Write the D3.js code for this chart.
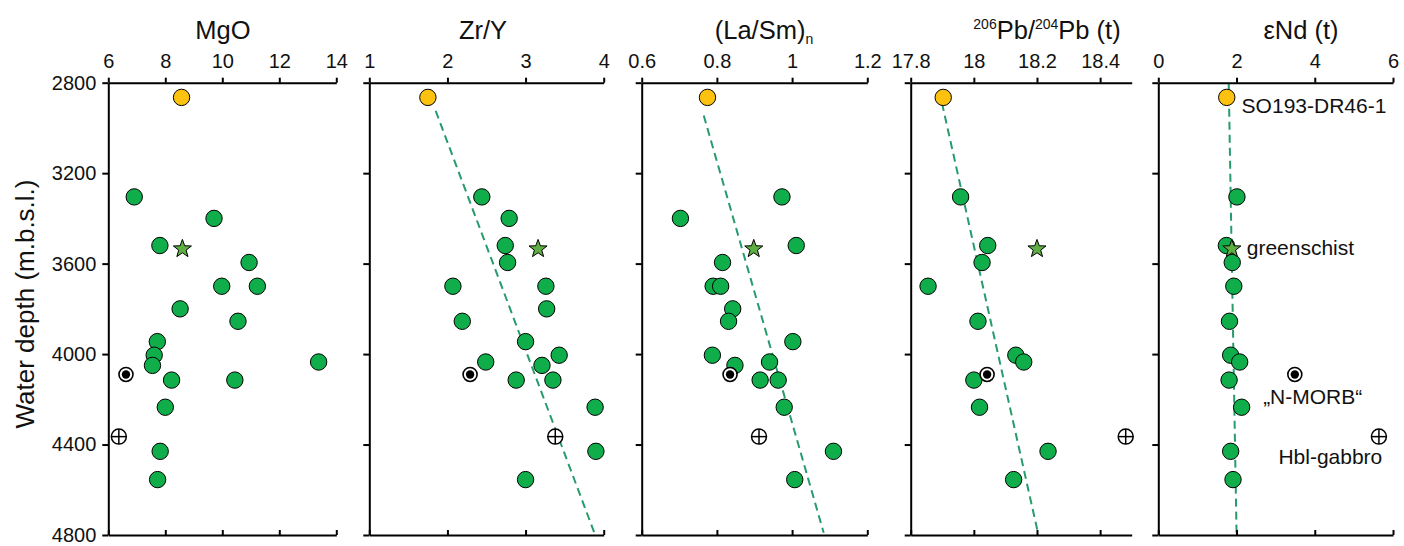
<!DOCTYPE html>
<html><head><meta charset="utf-8">
<script src="https://cdn.jsdelivr.net/npm/d3@7"></script>
<style>body{margin:0;background:#fff}svg{display:block}text{font-family:"Liberation Sans",Arial,Helvetica,sans-serif;fill:#111}</style>
</head><body><svg id="c" width="1404" height="546"></svg>
<script>
// ---------------- data ----------------
const depthTicks = [2800, 3200, 3600, 4000, 4400, 4800];
const depthDomain = [2800, 4800];

// green samples (depth, m.b.s.l.)
const greenDepths = [3305, 3400, 3520, 3595, 3700, 3700, 3800, 3855, 3945, 4005, 4035, 4050, 4115, 4115, 4235, 4430, 4555];
const mgoGreen    = [6.91, 9.71, 7.81, 10.94, 9.98, 11.23, 8.52, 10.55, 7.72, 7.61, 13.38, 7.55, 8.22, 10.44, 8.00, 7.82, 7.73];
const zryGreen    = [2.44, 2.79, 2.74, 2.77, 2.07, 3.26, 3.27, 2.19, 3.00, 3.43, 2.49, 3.21, 2.88, 3.35, 3.89, 3.90, 3.00];
const lasmGreen   = [0.973, 0.703, 1.011, 0.815, 0.790, 0.810, 0.842, 0.831, 1.002, 0.788, 0.940, 0.848, 0.915, 0.963, 0.979, 1.110, 1.007];
const pbGreen     = [17.958, null, 18.044, 18.026, 17.855, null, null, 18.013, null, 18.133, 18.158, null, 18.000, null, 18.018, 18.235, 18.126];
const ndGreen     = [2.01, null, 1.74, 1.89, 1.93, null, null, 1.82, null, 1.85, 2.08, null, 1.81, null, 2.13, 1.85, 1.91];

// special samples: SO193-DR46-1 (yellow), greenschist (star), "N-MORB" (bullseye), Hbl-gabbro (crossed circle)
const specialKinds  = ["yellow", "star", "nmorb", "hbl"];
const specialDepths = [2865, 3535, 4090, 4365];
const mgoSpecial  = [8.57, 8.60, 6.62, 6.37];
const zrySpecial  = [1.75, 3.16, 2.29, 3.38];
const lasmSpecial = [0.775, 0.898, 0.835, 0.912];
const pbSpecial   = [17.903, 18.20, 18.042, 18.481];
const ndSpecial   = [1.75, 1.88, 3.49, 5.64];

// dashed trend lines: [x at top, depth at top, x at bottom, depth at bottom]
const zryTrend  = [1.85, 2925, 3.88, 4790];
const lasmTrend = [0.765, 2945, 1.084, 4790];
const pbTrend   = [17.899, 2890, 18.203, 4790];
const ndTrend   = [1.80, 2800, 2.00, 4790];

// axis tick labels
const mgoTicks  = [6, 8, 10, 12, 14];
const zryTicks  = [1, 2, 3, 4];
const lasmTicks = [0.6, 0.8, 1, 1.2];
const pbTicks   = [17.8, 18, 18.2, 18.4];
const ndTicks   = [0, 2, 4, 6];

// annotations on the εNd panel (text, x value, depth)
const annoTexts  = ["SO193-DR46-1", "greenschist", "\u201EN-MORB\u201C", "Hbl-gabbro"];
const annoX      = [2.13, 2.26, 2.68, 3.07];
const annoDepths = [2903, 3531, 4190, 4455];

// ---------------- layout ----------------
const yTop = 82.7, yBot = 535;
const panels = [
  {x0:108.3, x1:336.3, domain:[6,14], ticks:mgoTicks, green:mgoGreen, special:mgoSpecial, trend:null, titleX:223, labels:true},
  {x0:369.3, x1:603.7, domain:[1,4], ticks:zryTicks, green:zryGreen, special:zrySpecial, trend:zryTrend, titleX:483},
  {x0:641.7, x1:867.3, domain:[0.6,1.2], ticks:lasmTicks, green:lasmGreen, special:lasmSpecial, trend:lasmTrend, titleX:764},
  {x0:910.7, x1:1131.7, domain:[17.8,18.5], ticks:pbTicks, green:pbGreen, special:pbSpecial, trend:pbTrend, titleX:1047},
  {x0:1158.3, x1:1393, domain:[0,6], ticks:ndTicks, green:ndGreen, special:ndSpecial, trend:ndTrend, titleX:1301}
];

const GREEN = "#0fae4b", YELLOW = "#fdc20f", STARFILL = "#5fae44", TREND = "#279b6c";

const svg = d3.select("#c");
const y = d3.scaleLinear().domain(depthDomain).range([yTop, yBot]);

function starPath(R, r) {
  let p = "";
  for (let i = 0; i < 10; i++) {
    const a = -Math.PI / 2 + i * Math.PI / 5;
    const rr = i % 2 === 0 ? R : r;
    p += (i === 0 ? "M" : "L") + (rr * Math.cos(a)).toFixed(2) + "," + (rr * Math.sin(a)).toFixed(2);
  }
  return p + "Z";
}

const fmt = v => String(+v.toFixed(2));

panels.forEach((P, pi) => {
  const x = d3.scaleLinear().domain(P.domain).range([P.x0, P.x1]);
  const g = svg.append("g");

  // trend line
  if (P.trend) {
    g.append("line")
      .attr("x1", x(P.trend[0])).attr("y1", y(P.trend[1]))
      .attr("x2", x(P.trend[2])).attr("y2", y(P.trend[3]))
      .attr("stroke", TREND).attr("stroke-width", 2).attr("stroke-dasharray", "8,5");
  }

  // axes
  const axTop = g.append("g").attr("transform", `translate(0,${yTop})`)
    .call(d3.axisTop(x).tickValues(P.ticks).tickSize(5).tickSizeOuter(0).tickPadding(10).tickFormat(fmt));
  const axBot = g.append("g").attr("transform", `translate(0,${yBot})`)
    .call(d3.axisBottom(x).tickValues(P.ticks).tickSize(-5).tickSizeOuter(0).tickFormat(""));
  const axL = g.append("g").attr("transform", `translate(${P.x0},0)`)
    .call(d3.axisLeft(y).tickValues(depthTicks).tickSize(6).tickSizeOuter(0).tickPadding(6)
      .tickFormat(P.labels ? d3.format("d") : ""));
  [axTop, axBot, axL].forEach(a => {
    a.selectAll("path,line").attr("stroke", "#000").attr("stroke-width", 2);
    a.selectAll("text").attr("font-size", 20).attr("fill", "#111")
      .style("font-family", '"Liberation Sans",Arial,sans-serif');
  });

  // green points
  const gd = greenDepths.map((d, i) => ({d, v: P.green[i]})).filter(o => o.v != null);
  g.selectAll("circle.green").data(gd).enter().append("circle")
    .attr("cx", o => x(o.v)).attr("cy", o => y(o.d)).attr("r", 8.2)
    .attr("fill", GREEN).attr("stroke", "#000").attr("stroke-width", 1);

  // special points
  specialKinds.forEach((k, i) => {
    const cx = x(P.special[i]), cy = y(specialDepths[i]);
    if (k === "yellow") {
      g.append("circle").attr("cx", cx).attr("cy", cy).attr("r", 8.2)
        .attr("fill", YELLOW).attr("stroke", "#000").attr("stroke-width", 1);
    } else if (k === "star") {
      g.append("path").attr("d", starPath(9.5, 3.9)).attr("transform", `translate(${cx},${cy})`)
        .attr("fill", STARFILL).attr("stroke", "#000").attr("stroke-width", 1);
    } else if (k === "nmorb") {
      g.append("circle").attr("cx", cx).attr("cy", cy).attr("r", 7)
        .attr("fill", "#fff").attr("stroke", "#000").attr("stroke-width", 1.6);
      g.append("circle").attr("cx", cx).attr("cy", cy).attr("r", 4.2).attr("fill", "#000");
    } else if (k === "hbl") {
      g.append("circle").attr("cx", cx).attr("cy", cy).attr("r", 7.5)
        .attr("fill", "#fff").attr("stroke", "#000").attr("stroke-width", 1.5);
      g.append("line").attr("x1", cx - 7.5).attr("x2", cx + 7.5).attr("y1", cy).attr("y2", cy)
        .attr("stroke", "#000").attr("stroke-width", 1.5);
      g.append("line").attr("x1", cx).attr("x2", cx).attr("y1", cy - 7.5).attr("y2", cy + 7.5)
        .attr("stroke", "#000").attr("stroke-width", 1.5);
    }
  });

  // annotations (last panel)
  if (pi === 4) {
    annoTexts.forEach((t, i) => {
      g.append("text").attr("x", x(annoX[i])).attr("y", y(annoDepths[i])).attr("dy", "0.35em")
        .attr("font-size", 21).text(t);
    });
  }
});

// panel titles
const tY = 39;
svg.append("text").attr("x", panels[0].titleX).attr("y", tY).attr("text-anchor", "middle").attr("font-size", 25.5).text("MgO");
svg.append("text").attr("x", panels[1].titleX).attr("y", tY).attr("text-anchor", "middle").attr("font-size", 25.5).text("Zr/Y");
const t3 = svg.append("text").attr("x", panels[2].titleX).attr("y", tY).attr("text-anchor", "middle").attr("font-size", 25.5);
t3.append("tspan").text("(La/Sm)");
t3.append("tspan").attr("font-size", 14).attr("dy", 5).text("n");
const t4 = svg.append("text").attr("x", panels[3].titleX).attr("y", tY).attr("text-anchor", "middle").attr("font-size", 25.5);
t4.append("tspan").attr("font-size", 14).attr("dy", -10).text("206");
t4.append("tspan").attr("dy", 10).text("Pb/");
t4.append("tspan").attr("font-size", 14).attr("dy", -10).text("204");
t4.append("tspan").attr("dy", 10).text("Pb (t)");
svg.append("text").attr("x", panels[4].titleX).attr("y", tY).attr("text-anchor", "middle").attr("font-size", 25.5).text("\u03B5Nd (t)");

// y-axis title
svg.append("text").attr("transform", "translate(34,304) rotate(-90)").attr("text-anchor", "middle")
  .attr("font-size", 26).text("Water depth (m.b.s.l.)");
</script></body></html>
